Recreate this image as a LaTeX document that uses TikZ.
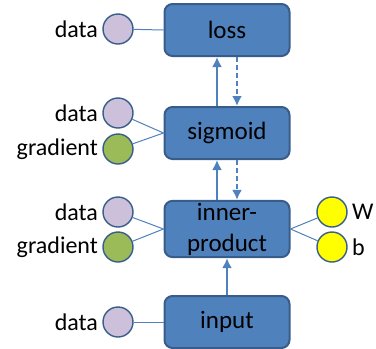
\documentclass[tikz,border=0pt]{standalone}
\usepackage{fontspec}
\setmainfont{Carlito}
\usetikzlibrary{positioning,arrows.meta}
\definecolor{layerblue}{RGB}{79,129,189}
\definecolor{layeredge}{RGB}{56,93,138}
\definecolor{blobdata}{RGB}{204,192,218}
\definecolor{blobgrad}{RGB}{155,187,89}
\definecolor{blobparam}{RGB}{255,255,0}
\tikzset{
  layer/.style={draw=layeredge,fill=layerblue,line width=1pt,rounded corners=4pt,
    minimum width=62.5pt,minimum height=26pt,align=center,inner sep=1pt,
    font=\fontsize{12.5}{15.5}\selectfont},
  blob/.style={circle,draw=layeredge,line width=0.7pt,minimum size=15pt,inner sep=0pt,
    label distance=0.5pt},
  every label/.style={font=\fontsize{12}{14}\selectfont,inner sep=2pt},
  datab/.style={blob,fill=blobdata},
  gradb/.style={blob,fill=blobgrad},
  paramb/.style={blob,fill=blobparam},
  link/.style={draw=layerblue,line width=0.5pt},
  fwd/.style={draw=layerblue,line width=1pt,-{Latex[length=5pt,width=5pt]}},
  bwd/.style={fwd,dash pattern=on 2.5pt off 1.5pt}
}
\begin{document}
\begin{tikzpicture}[x=0.5pt,y=-0.5pt]
\useasboundingbox (0,0) rectangle (376,349);

% layers
\node[layer] (loss) at (227,30) {loss};
\node[layer] (sig) at (227,133) {sigmoid};
\node[layer] (ip) at (227,229) {inner-\\product};
\node[layer] (in) at (227,322) {input};

% blobs
\node[datab,label=left:data] (lossd) at (118,29) {};
\node[datab,label=left:data] (sigd) at (118,113) {};
\node[gradb,label=left:gradient] (sigg) at (118,149) {};
\node[datab,label=left:data] (ipd) at (118,212) {};
\node[gradb,label=left:gradient] (ipg) at (118,247) {};
\node[paramb,label=right:W] (ipw) at (332,212) {};
\node[paramb,label=right:b] (ipb) at (332,247) {};
\node[datab,label=left:data] (ind) at (118,322) {};

% links
\draw[link] (lossd) -- (loss.west);
\draw[link] (sigd) -- (sig.west);
\draw[link] (sigg) -- (sig.west);
\draw[link] (ipd) -- (ip.west);
\draw[link] (ipg) -- (ip.west);
\draw[link] (ipw) -- (ip.east);
\draw[link] (ipb) -- (ip.east);
\draw[link] (ind) -- (in.west);

% forward / backward
\draw[fwd] ([xshift=-5pt]sig.north) -- ([xshift=-5pt]loss.south);
\draw[bwd] ([xshift=5pt]loss.south) -- ([xshift=5pt]sig.north);
\draw[fwd] ([xshift=-5pt]ip.north) -- ([xshift=-5pt]sig.south);
\draw[bwd] ([xshift=5pt]sig.south) -- ([xshift=5pt]ip.north);
\draw[fwd] (in) -- (ip);
\end{tikzpicture}
\end{document}
